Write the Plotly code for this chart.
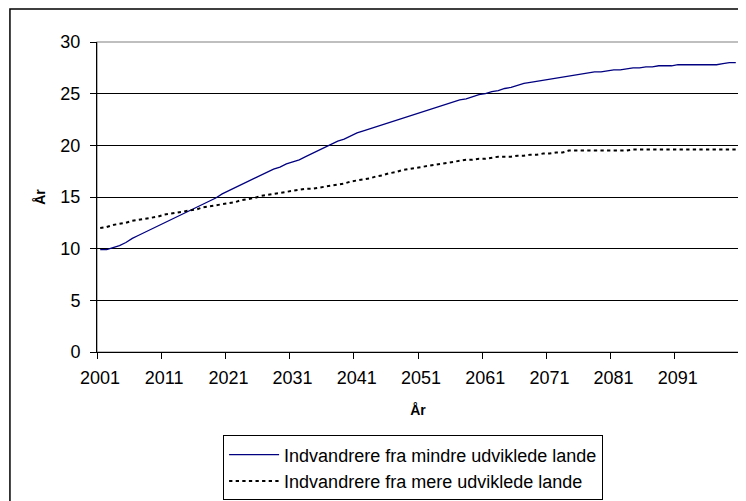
import plotly.graph_objects as go

# years 2001-2100
years = list(range(2001, 2101))

# Indvandrere fra mindre udviklede lande
mindre = [
    9.9, 9.9, 10.1, 10.3, 10.6, 11.0, 11.3, 11.6, 11.9, 12.2,
    12.5, 12.8, 13.1, 13.4, 13.7, 14.0, 14.3, 14.6, 14.9, 15.3,
    15.6, 15.9, 16.2, 16.5, 16.8, 17.1, 17.4, 17.7, 17.9, 18.2,
    18.4, 18.6, 18.9, 19.2, 19.5, 19.8, 20.1, 20.4, 20.6, 20.9,
    21.2, 21.4, 21.6, 21.8, 22.0, 22.2, 22.4, 22.6, 22.8, 23.0,
    23.2, 23.4, 23.6, 23.8, 24.0, 24.2, 24.4, 24.5, 24.7, 24.9,
    25.0, 25.2, 25.3, 25.5, 25.6, 25.8, 26.0, 26.1, 26.2, 26.3,
    26.4, 26.5, 26.6, 26.7, 26.8, 26.9, 27.0, 27.1, 27.1, 27.2,
    27.3, 27.3, 27.4, 27.5, 27.5, 27.6, 27.6, 27.7, 27.7, 27.7,
    27.8, 27.8, 27.8, 27.8, 27.8, 27.8, 27.8, 27.9, 28.0, 28.0,
]

# Indvandrere fra mere udviklede lande
mere = [
    12.0, 12.1, 12.3, 12.4, 12.5, 12.7, 12.8, 12.9, 13.0, 13.1,
    13.3, 13.4, 13.5, 13.6, 13.7, 13.8, 14.0, 14.1, 14.2, 14.3,
    14.4, 14.5, 14.7, 14.8, 14.9, 15.1, 15.2, 15.3, 15.4, 15.5,
    15.6, 15.7, 15.8, 15.8, 15.9, 16.0, 16.1, 16.2, 16.3, 16.5,
    16.6, 16.7, 16.8, 17.0, 17.1, 17.3, 17.4, 17.6, 17.7, 17.8,
    17.9, 18.0, 18.1, 18.2, 18.3, 18.4, 18.5, 18.6, 18.6, 18.7,
    18.7, 18.8, 18.9, 18.9, 18.9, 19.0, 19.0, 19.1, 19.1, 19.2,
    19.2, 19.3, 19.3, 19.5, 19.5, 19.5, 19.5, 19.5, 19.5, 19.5,
    19.5, 19.5, 19.5, 19.6, 19.6, 19.6, 19.6, 19.6, 19.6, 19.6,
    19.6, 19.6, 19.6, 19.6, 19.6, 19.6, 19.6, 19.6, 19.6, 19.6,
]

x_ticks = list(range(2001, 2102, 10))
x_labels = [str(y) for y in x_ticks[:-1]] + [""]
y_ticks = [0, 5, 10, 15, 20, 25, 30]

font = "Liberation Sans, Arial, sans-serif"

fig = go.Figure()
fig.add_trace(go.Scatter(
    x=years, y=mindre, mode="lines",
    name="Indvandrere fra mindre udviklede lande",
    line=dict(color="#000080", width=1.3),
))
fig.add_trace(go.Scatter(
    x=years, y=mere, mode="lines",
    name="Indvandrere fra mere udviklede lande",
    line=dict(color="black", width=2, dash="3.3px,3.3px"),
))

# outer chart frame (runs off the right/bottom edge) and gray plot area border
fig.add_shape(type="rect", xref="paper", yref="paper",
              x0=-0.1356, x1=1.03, y0=-0.52, y1=1.1067,
              line=dict(color="black", width=1.5), layer="below")
fig.add_shape(type="rect", xref="paper", yref="paper",
              x0=0, x1=1, y0=0, y1=1,
              line=dict(color="#808080", width=1.2), layer="below")

fig.update_layout(
    width=738, height=493,
    margin=dict(l=89, r=7.3, t=33.8, b=149.4, autoexpand=False),
    paper_bgcolor="white", plot_bgcolor="white",
    font=dict(family=font, size=18, color="black"),
    showlegend=True,
    legend=dict(
        x=0.1964, y=-0.2692, xanchor="left", yanchor="top",
        bordercolor="black", borderwidth=1, bgcolor="white",
        font=dict(size=18), tracegroupgap=0, itemwidth=50,
    ),
    xaxis=dict(
        range=[2000.5, 2100.5],
        tickvals=[v - 0.5 for v in x_ticks], ticktext=x_labels,
        ticklabelshift=3, ticklabelstandoff=3,
        ticks="outside", ticklen=6, tickcolor="black",
        showline=True, linecolor="black", linewidth=1,
        showgrid=False, zeroline=False,
        title=dict(text="<b>År</b>", font=dict(size=14), standoff=18.5),
    ),
    yaxis=dict(
        range=[0, 30], tickvals=y_ticks,
        ticklabelstandoff=6,
        ticks="outside", ticklen=6, tickcolor="black",
        showline=True, linecolor="black", linewidth=1,
        showgrid=True, gridcolor="black", gridwidth=1,
        zeroline=False,
        title=dict(text="<b>År</b>", font=dict(size=14), standoff=11),
    ),
)

fig.write_html("out.html")
